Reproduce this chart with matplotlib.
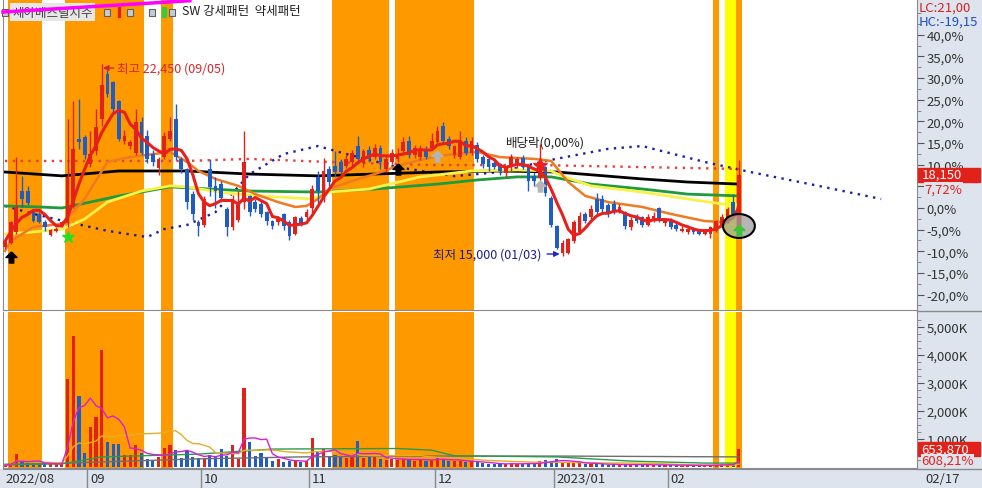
import numpy as np
import pandas as pd
import matplotlib
matplotlib.use('Agg')
import matplotlib.pyplot as plt
import matplotlib.transforms as mtrans
from matplotlib.patches import Rectangle, Ellipse
from matplotlib.lines import Line2D

plt.rcParams['font.family'] = ['Noto Sans CJK KR', 'DejaVu Sans']

# ---------------- data ----------------
base_price = 16850  # price at the 0,0% line

opens = [15350, 15500, 15900, 17500, 17500, 16700, 16600, 16300, 15800, 15950,
         16150, 16250, 16900, 19550, 19600, 18550, 19050, 20300, 22050, 21750,
         21000, 19450, 19250, 19000, 20200, 19650, 18950, 18400, 18850, 19550,
         20300, 18750, 18350, 17400, 16300, 16200, 18350, 17700, 17800, 16800,
         16100, 16400, 17100, 17300, 17100, 17000, 16700, 16350, 16300, 16600,
         16300, 15850, 16450, 16500, 16850, 18050, 17200, 18350, 18500, 18650,
         18500, 18650, 19250, 18600, 19100, 18850, 19200, 18350, 18650, 18750,
         19050, 19450, 18900, 18850, 19100, 19200, 19400, 20050, 19550, 18900,
         18850, 19450, 19000, 19300, 18850, 18750, 18600, 18550, 18200, 18450,
         18550, 18800, 18450, 18100, 18000, 18450, 17250, 16150, 15100, 15100,
         15550, 15900, 16600, 16500, 17200, 17200, 16950, 17000, 16750, 16700,
         16100, 16500, 16500, 16200, 16350, 16850, 16250, 16350, 16200, 15950,
         15900, 16050, 16000, 15850, 15850, 15950, 16200, 16300, 17100, 16150]
highs = [15600, 16350, 18850, 18100, 17700, 16800, 16700, 16400, 16050, 16100,
         16350, 20300, 21000, 21100, 19700, 19850, 20700, 22450, 22200, 21800,
         21050, 19900, 19500, 20700, 20400, 19900, 19100, 18850, 19800, 20400,
         20900, 18850, 18400, 17500, 16400, 17300, 18750, 18050, 17900, 16900,
         17350, 17500, 19850, 17350, 17200, 17150, 16750, 16400, 16550, 16650,
         16400, 16550, 16550, 16800, 17750, 18300, 18800, 18500, 19050, 18750,
         18900, 19100, 19650, 19150, 19250, 19350, 19300, 18900, 19150, 19200,
         19600, 19650, 19300, 19300, 19250, 19750, 20050, 20200, 19650, 19300,
         19850, 19600, 19600, 19400, 18900, 18800, 18700, 18600, 18500, 18950,
         18850, 18900, 18550, 18250, 19350, 18500, 17300, 16200, 15600, 15700,
         16400, 16700, 16700, 16950, 17450, 17350, 17050, 17150, 17000, 16750,
         16500, 16600, 16550, 16600, 16700, 16900, 16400, 16450, 16250, 16150,
         16100, 16100, 16050, 16050, 16150, 16400, 16600, 16900, 17400, 18700]
lows = [15250, 15450, 15850, 16900, 16950, 16300, 16250, 15950, 15750, 15900,
        16100, 16100, 16850, 19150, 18750, 18450, 18900, 20050, 21150, 20600,
        19450, 19350, 19150, 18900, 18900, 18600, 18500, 18150, 18750, 19450,
        18700, 18200, 16800, 16400, 15750, 16100, 17300, 16850, 17100, 15750,
        16000, 16300, 16800, 16550, 16700, 16500, 16200, 16050, 16200, 16000,
        15600, 15800, 16150, 16400, 16650, 17050, 17100, 17700, 18050, 18050,
        18400, 18500, 18650, 18450, 18650, 18750, 18350, 18250, 18550, 18650,
        18950, 18800, 18800, 18700, 18750, 19100, 19300, 19350, 19150, 18800,
        18750, 18900, 18900, 18650, 18400, 18300, 18350, 18150, 18050, 18300,
        18400, 18350, 17500, 17700, 17950, 17300, 16100, 15250, 15000, 15050,
        15500, 15850, 16250, 16400, 16600, 16700, 16500, 16600, 16650, 16050,
        16000, 16250, 16100, 16150, 16300, 16300, 16150, 16050, 15950, 15900,
        15850, 15850, 15800, 15800, 15700, 15900, 16150, 16250, 16550, 16050]
closes = [15550, 16300, 16900, 17200, 17050, 16350, 16300, 16100, 16000, 16050,
          16300, 18050, 19150, 19400, 18900, 18950, 20000, 21650, 21300, 20700,
          19550, 19650, 19400, 20200, 19000, 18750, 18650, 18750, 19650, 19850,
          18850, 18350, 17100, 16600, 16150, 17200, 17650, 17500, 17250, 16100,
          17200, 16950, 18650, 16700, 16800, 16600, 16350, 16150, 16450, 16150,
          15750, 16500, 16250, 16700, 17600, 17500, 18300, 17850, 18250, 18250,
          18750, 19000, 18750, 19050, 18750, 19200, 18650, 18750, 19000, 18950,
          19400, 18900, 19200, 19150, 18850, 19450, 19850, 19450, 19250, 19250,
          19400, 19000, 19450, 18750, 18550, 18450, 18450, 18300, 18400, 18850,
          18750, 18450, 17900, 17900, 18450, 17450, 16200, 15300, 15500, 15650,
          16300, 16550, 16350, 16800, 16700, 16800, 16600, 16700, 16900, 16150,
          16400, 16350, 16200, 16500, 16550, 16400, 16350, 16100, 16050, 16050,
          16050, 15900, 15850, 16000, 16100, 16350, 16500, 16800, 16600, 18150]
volumes = [70000, 100000, 464000, 180000, 140000, 140000, 150000, 100000, 100000, 90000,
           110000, 3140000, 4690000, 2540000, 500000, 1430000, 1790000, 4180000, 890000, 820000,
           820000, 430000, 430000, 790000, 500000, 290000, 230000, 360000, 680000, 790000,
           610000, 320000, 570000, 360000, 320000, 320000, 430000, 390000, 640000, 390000,
           790000, 290000, 2820000, 890000, 390000, 500000, 360000, 230000, 290000, 180000,
           210000, 230000, 180000, 230000, 1040000, 570000, 640000, 390000, 430000, 360000,
           330000, 400000, 930000, 330000, 400000, 360000, 300000, 250000, 290000, 260000,
           300000, 250000, 230000, 290000, 230000, 250000, 320000, 280000, 230000, 200000,
           220000, 180000, 200000, 170000, 130000, 120000, 100000, 90000, 110000, 150000,
           120000, 100000, 130000, 100000, 200000, 250000, 230000, 300000, 180000, 150000,
           170000, 140000, 100000, 120000, 110000, 90000, 80000, 90000, 70000, 100000,
           80000, 70000, 90000, 80000, 70000, 80000, 60000, 70000, 60000, 50000,
           60000, 50000, 60000, 50000, 70000, 80000, 90000, 100000, 92327, 653870]

# month start (candle index) and labels
month_idx = [0, 15, 35, 54, 76, 97, 117]
month_lbl = ['2022/08', '09', '10', '11', '12', '2023/01', '02']
last_date = '02/17'

# pattern signal zones (first candle, last candle)
orange_zones = [(1, 6), (11, 24), (28, 29), (58, 67), (69, 82), (125, 125), (129, 129)]
yellow_zones = [(127, 128)]

# longer averages, read at sample dates
ma_orange_idx = [0, 1, 5, 10, 14, 18, 22, 29, 32, 34, 37, 41, 44, 48, 51, 53, 55, 57, 61, 65,
                 70, 76, 83, 87, 93, 96, 99, 102, 106, 112, 117, 123, 126, 129]
ma_orange = [15180, 15570, 16110, 16230, 17200, 18640, 18830, 19030, 18640, 18290, 17980, 17710,
             17390, 17080, 16890, 16930, 17200, 17590, 17900, 18170, 18560, 18870, 19030, 18830,
             18760, 18680, 17860, 17320, 17080, 16890, 16620, 16340, 16310, 16620]
ma_yellow_idx = [0, 5, 10, 14, 18, 24, 29, 32, 39, 45, 54, 57, 64, 73, 82, 90, 96, 98, 103, 112,
                 120, 126, 129]
ma_yellow = [15840, 15920, 16030, 16420, 17080, 17510, 17710, 17670, 17430, 17320, 17200, 17470,
             17590, 18060, 18290, 18330, 18290, 18090, 17710, 17470, 17200, 17010, 16970]
ma_green_idx = [0, 6, 10, 15, 20, 24, 29, 43, 55, 65, 76, 83, 90, 96, 103, 112, 120, 129]
ma_green = [16930, 16890, 16850, 17080, 17320, 17470, 17670, 17510, 17470, 17590, 17780, 17940,
            18060, 18060, 17780, 17590, 17390, 17320]
ma_black_idx = [0, 10, 20, 32, 43, 55, 76, 87, 97, 112, 120, 129]
ma_black = [18250, 18100, 18290, 18290, 18170, 18100, 18250, 18290, 18250, 17980, 17860, 17780]
span_blue_idx = [0, 5, 11, 18, 25, 28, 32, 37, 43, 49, 55, 60, 69, 79, 87, 95, 106, 112, 123,
                 131, 143, 154]
span_blue = [16930, 16620, 16310, 15960, 15720, 16030, 16190, 16690, 18170, 18950, 19260, 18950,
             18440, 18090, 18250, 18680, 19150, 19260, 18640, 18250, 17710, 17200]
span_red_idx = [0, 32, 43, 57, 75, 94, 112, 129]
span_red = [18680, 18680, 18760, 18640, 18520, 18520, 18440, 18370]
vol_green_idx = [0, 10, 17, 34, 47, 57, 69, 75, 79, 97, 110, 123, 129]
vol_green = [100, 110, 360, 460, 640, 650, 660, 600, 400, 360, 210, 140, 140]
vol_gray_idx = [0, 17, 34, 52, 73, 98, 129]
vol_gray = [70, 180, 290, 360, 390, 390, 360]

# ---------------- figure ----------------
W, H = 982, 489
fig = plt.figure(figsize=(W / 100, H / 100), dpi=100)
fig.patch.set_facecolor('white')


def box(x0, y0, x1, y1):
    return [x0 / W, 1 - y1 / H, (x1 - x0) / W, (y1 - y0) / H]


panel_bg = '#dde4ee'
fig.patches.append(Rectangle((917 / W, 0), 65 / W, 1, transform=fig.transFigure,
                             color=panel_bg, zorder=-5))
fig.patches.append(Rectangle((0, 0), 1, 19 / H, transform=fig.transFigure,
                             color=panel_bg, zorder=-5))
for yy in (311.5, 469.5):
    fig.lines.append(Line2D([917 / W, 1], [1 - yy / H] * 2, transform=fig.transFigure,
                            color='#8a8a8a', lw=1))

ax_p = fig.add_axes(box(3, 0, 917, 311))
ax_v = fig.add_axes(box(3, 313, 917, 469))
ax_d = fig.add_axes(box(3, 470, 917, 489))

n = len(closes)
x = np.arange(n)
o = np.array(opens)
c = np.array(closes)
up = c >= o
RED, BLUE = '#e3211b', '#1f5cc4'
col = np.where(up, RED, BLUE)
xlim = (-0.35, 160.3)

for ax in (ax_p, ax_v):
    ax.set_xlim(*xlim)
    for a, b in orange_zones:
        ax.axvspan(a - 0.5, b + 0.5, color='#ff9900', lw=0, zorder=0)
    for a, b in yellow_zones:
        ax.axvspan(a - 0.5, b + 0.5, color='#ffff00', lw=0, zorder=0)
    ax.set_xticks([])
    ax.yaxis.tick_right()
    ax.spines['top'].set_visible(False)
    for s in ('left', 'right', 'bottom'):
        ax.spines[s].set_color('#8a8a8a')
    ax.tick_params(axis='y', which='major', length=5, color='#555555',
                   labelsize=9.5, labelcolor='#333333', pad=2)
    ax.tick_params(axis='y', which='minor', length=3, color='#777777')

# ---- price panel ----
ax_p.set_ylim(12882, 24980)
pct = np.arange(-20, 45, 5)
ax_p.set_yticks(base_price * (1 + pct / 100))
ax_p.set_yticklabels([f'{p:.1f}%'.replace('.', ',') for p in pct])
ax_p.set_yticks(base_price * (1 + np.arange(-22.5, 47.5, 2.5) / 100), minor=True)

ax_p.plot(span_blue_idx, span_blue, color='#1c1ca8', lw=1.7, ls=(0, (1, 2.3)), zorder=1)
ax_p.plot(span_red_idx, span_red, color='#e04040', lw=1.7, ls=(0, (1, 2.3)), zorder=1)
ax_p.plot(ma_black_idx, ma_black, color='black', lw=2, zorder=2)
ax_p.plot(ma_green_idx, ma_green, color='#1f9a3c', lw=2, zorder=2)
ax_p.plot(ma_yellow_idx, ma_yellow, color='#f6f24a', lw=2, zorder=2)
ax_p.plot(ma_orange_idx, ma_orange, color='#f07a22', lw=1.8, zorder=3)

body = c - o
body = np.where(np.abs(body) < 40, 40, body)
ax_p.vlines(x, lows, highs, colors=col, lw=1, zorder=4)
ax_p.bar(x, body, bottom=o, width=0.66, color=col, lw=0, zorder=4)

ma5 = pd.Series(closes).rolling(5, min_periods=1).mean()
ax_p.plot(x, ma5, color='#e8201c', lw=2.2, zorder=5)

# signal markers
arrow = [(0, 1), (-1, 0), (-0.4, 0), (-0.4, -1), (0.4, -1), (0.4, 0), (1, 0), (0, 1)]
ax_p.plot([1, 69], [14945, 18370], ls='none', marker=arrow, ms=8, color='black', zorder=6)
ax_p.plot([76, 94], [18870, 17700], ls='none', marker=arrow, ms=8, color='#b4b4b4', zorder=6)
ax_p.plot([11], [15720], ls='none', marker='*', ms=9, color='#22e022', zorder=6)
ax_p.plot([94], [18520], ls='none', marker='*', ms=10, color='#ee2020', zorder=6)
ax_p.add_patch(Ellipse((n - 1, 16150), 5.6, 930, fc=(0.62, 0.62, 0.62, 0.75),
                       ec='black', lw=1.5, zorder=6))
ax_p.plot([n - 1], [15990], ls='none', marker=arrow, ms=8, color='#3cc23c', zorder=7)

# high / low / ex-dividend notes
hi = int(np.argmax(highs))
lo = int(np.argmin(lows))
ax_p.annotate(f'최고 {highs[hi]:,} (09/05)', xy=(hi + 0.2, 22296), xytext=(19.6, 22296),
              fontsize=9, color='#d8242a', va='center', ha='left', zorder=8,
              arrowprops=dict(arrowstyle='-|>', color='#d8242a', lw=1, mutation_scale=8,
                              shrinkA=0, shrinkB=0))
ax_p.annotate(f'최저 {lows[lo]:,} (01/03)', xy=(lo - 0.5, 15060), xytext=(94.3, 15060),
              fontsize=9, color='#1c1c8c', va='center', ha='right', zorder=8,
              arrowprops=dict(arrowstyle='-|>', color='#2424c8', lw=1, mutation_scale=8,
                              shrinkA=2, shrinkB=0))
ax_p.text(88, 19420, '배당락(0,00%)', fontsize=9, color='#202020', va='center', zorder=8)

# header legend (kept inside the price axes so the trend line can cross it)
ft = fig.transFigure
for px in (5, 107, 130, 152, 172):
    ax_p.add_patch(Rectangle(((px - 3) / W, 1 - 16.5 / H), 6 / W, 7 / H, transform=ft,
                             fc='#c4ccd6', ec='#606060', lw=0.8, zorder=7, clip_on=False))
ax_p.text(12 / W, 1 - 13 / H, '세아베스틸지주', transform=ft, fontsize=9, color='#404040',
          va='center', bbox=dict(fc='#e6e6e6', ec='none', pad=1.5), zorder=7)
ax_p.add_patch(Rectangle((118 / W, 1 - 18 / H), 1.5 / W, 10 / H, transform=ft,
                         color='#e02020', zorder=7, clip_on=False))
ax_p.add_patch(Rectangle((162 / W, 1 - 18 / H), 4 / W, 10 / H, transform=ft,
                         color='#3cc83c', zorder=7, clip_on=False))
ax_p.text(182 / W, 1 - 12 / H, 'SW 강세패턴  약세패턴', transform=ft, fontsize=9,
          color='#202020', va='center', zorder=7)

# trend line over the header
ax_p.plot([-0.35, 32.5], [24474, 24914], color='#ff00ff', lw=2.5, zorder=9, clip_on=False)

# ---- volume panel ----
vk = np.array(volumes) / 1000
ax_v.set_ylim(-36, 5536)
vt = np.arange(1000, 6000, 1000)
ax_v.set_yticks(vt)
ax_v.set_yticklabels([f'{v:,}K' for v in vt])
ax_v.set_yticks(np.arange(250, 5500, 250), minor=True)
ax_v.bar(x, vk, width=0.55, color=col, lw=0, zorder=2)
vs = pd.Series(vk)
ax_v.plot(vol_gray_idx, vol_gray, color='#6e6e6e', lw=1, zorder=3)
ax_v.plot(vol_green_idx, vol_green, color='#2c9a4c', lw=1, zorder=3)
ax_v.plot(x, vs.rolling(20, min_periods=1).mean(), color='#e2b024', lw=1, zorder=3)
ax_v.plot(x, vs.rolling(5, min_periods=1).mean(), color='#d81ed8', lw=1, zorder=3)

# ---- date strip ----
ax_d.set_xlim(*xlim)
ax_d.set_ylim(0, 1)
ax_d.set_facecolor(panel_bg)
ax_d.set_xticks([])
ax_d.set_yticks([])
for s in ('left', 'right', 'bottom'):
    ax_d.spines[s].set_visible(False)
ax_d.spines['top'].set_color('#8a8a8a')
for m, lbl in zip(month_idx, month_lbl):
    if m > 0:
        ax_d.axvline(m - 0.5, color='#8a8a8a', lw=1)
    ax_d.annotate(lbl, (max(m - 0.5, xlim[0]), 0.5), xytext=(2, 0), textcoords='offset points',
                  fontsize=9.5, color='#303030', va='center', annotation_clip=False)

# ---- right side labels ----
fig.text(919 / W, 1 - 8 / H, 'LC:21,00', fontsize=9.5, color='#d82020', va='center')
fig.text(919 / W, 1 - 22 / H, 'HC:-19,15', fontsize=9.5, color='#2250c0', va='center')
fig.text(925 / W, 1 - 480 / H, last_date, fontsize=9.5, color='#303030', va='center')

tp = mtrans.blended_transform_factory(ax_p.transAxes, ax_p.transData)
ax_p.add_patch(Rectangle((1.001, c[-1] - 270), 62 / 914, 545, transform=tp, clip_on=False,
                         color='#e3211b', zorder=10))
ax_p.text(1.005, c[-1], f'{closes[-1]:,}', transform=tp, fontsize=9.5, color='white',
          va='center', zorder=11)
chg = (closes[-1] / base_price - 1) * 100
ax_p.text(1.0085, c[-1] - 560, f'{chg:.2f}%'.replace('.', ','), transform=tp, fontsize=9.5,
          color='#e3211b', va='center', zorder=11,
          bbox=dict(fc=panel_bg, ec='none', pad=0.3))

tv = mtrans.blended_transform_factory(ax_v.transAxes, ax_v.transData)
ax_v.add_patch(Rectangle((1.001, vk[-1] - 250), 62 / 914, 500, transform=tv, clip_on=False,
                         color='#e3211b', zorder=10))
ax_v.text(1.005, vk[-1], f'{volumes[-1]:,}', transform=tv, fontsize=9.5, color='white',
          va='center', zorder=11)
vchg = (volumes[-1] / volumes[-2] - 1) * 100
ax_v.text(1.005, vk[-1] - 420, f'{vchg:.2f}%'.replace('.', ','), transform=tv, fontsize=9.5,
          color='#e3211b', va='center', zorder=11,
          bbox=dict(fc=panel_bg, ec='none', pad=0.3))

fig.savefig('out.png', dpi=100)
